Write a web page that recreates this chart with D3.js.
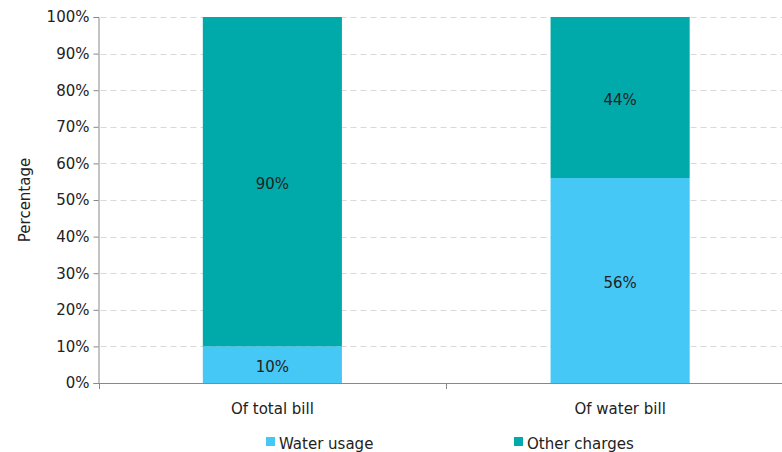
<!DOCTYPE html>
<html><head><meta charset="utf-8">
<script src="https://cdn.jsdelivr.net/npm/d3@7"></script>
<style>body{margin:0;background:#fff}svg text{font-family:"DejaVu Sans",sans-serif;fill:#222}</style>
</head><body><svg id="c" width="782" height="452"></svg>
<script>
const categories = ["Of total bill", "Of water bill"];
const seriesNames = ["Water usage", "Other charges"];
const waterUsage = [10, 56];
const otherCharges = [90, 44];
const yTicks = [0,10,20,30,40,50,60,70,80,90,100];
const colors = ["#45C8F5", "#00AAAA"];

const svg = d3.select("#c");
const mLeft = 98.5, mTop = 17, mBottom = 383, mRight = 794;
const x = d3.scaleBand().domain(categories).range([mLeft, mRight]).paddingInner(0.6).paddingOuter(0.3);
const xb = d3.scaleBand().domain(categories).range([mLeft, mRight]);
const y = d3.scaleLinear().domain([0,100]).range([mBottom, mTop]);

// gridlines
svg.append("g").selectAll("line").data(yTicks.filter(d=>d>0)).join("line")
  .attr("x1", mLeft+2).attr("x2", 782).attr("y1", d=>Math.round(y(d))+0.5).attr("y2", d=>Math.round(y(d))+0.5)
  .attr("stroke", "#d9d9d9").attr("stroke-dasharray", "6,4").attr("stroke-width", 1);

const stack = d3.stack().keys([0,1]).value((d,k)=>k===0?waterUsage[d]:otherCharges[d]);
const layers = stack([0,1]);
layers.forEach((layer, k) => {
  svg.append("g").selectAll("rect").data(layer).join("rect")
    .attr("x", (d,i)=>x(categories[i])).attr("width", x.bandwidth())
    .attr("y", d=>y(d[1])).attr("height", d=>y(d[0])-y(d[1]))
    .attr("fill", colors[k]);
  svg.append("g").selectAll("text").data(layer).join("text")
    .attr("x", (d,i)=>x(categories[i])+x.bandwidth()/2)
    .attr("y", d=>y((d[0]+d[1])/2)+7)
    .attr("text-anchor","middle").attr("font-size", 15)
    .text((d,i)=> (k===0?waterUsage[i]:otherCharges[i]) + "%");
});

// y axis
const ya = svg.append("g").attr("transform", `translate(${mLeft},0)`)
  .call(d3.axisLeft(y).tickValues(yTicks).tickSize(5).tickPadding(4).tickFormat(d=>d+"%"));
ya.select(".domain").attr("stroke","#888");
ya.selectAll(".tick line").attr("stroke","#888");
ya.selectAll("text").attr("font-size", 15).attr("font-family","DejaVu Sans").attr("fill","#222");

// x axis
const xa = svg.append("g").attr("transform", `translate(0,${mBottom+0.5})`)
  .call(d3.axisBottom(x).tickSize(0).tickPadding(20));
xa.select(".domain").remove();
svg.append("line").attr("x1", mLeft).attr("x2", 782).attr("y1", mBottom+0.5).attr("y2", mBottom+0.5).attr("stroke","#888");
svg.append("g").selectAll("line").data(categories).join("line")
  .attr("x1", d=>Math.round(xb(d))+0.5).attr("x2", d=>Math.round(xb(d))+0.5)
  .attr("y1", mBottom).attr("y2", mBottom+6).attr("stroke","#888");
xa.selectAll("text").attr("font-size", 15).attr("font-family","DejaVu Sans").attr("fill","#222");

// y label
svg.append("text").attr("transform", "translate(30,200) rotate(-90)")
  .attr("text-anchor","middle").attr("font-size", 15).text("Percentage");

// legend
const legX = [266, 514];
seriesNames.forEach((n,i)=>{
  svg.append("rect").attr("x", legX[i]).attr("y", 437).attr("width", 9).attr("height", 9).attr("fill", colors[i]);
  svg.append("text").attr("x", legX[i]+13).attr("y", 449).attr("font-size", 15).text(n);
});
</script></body></html>
